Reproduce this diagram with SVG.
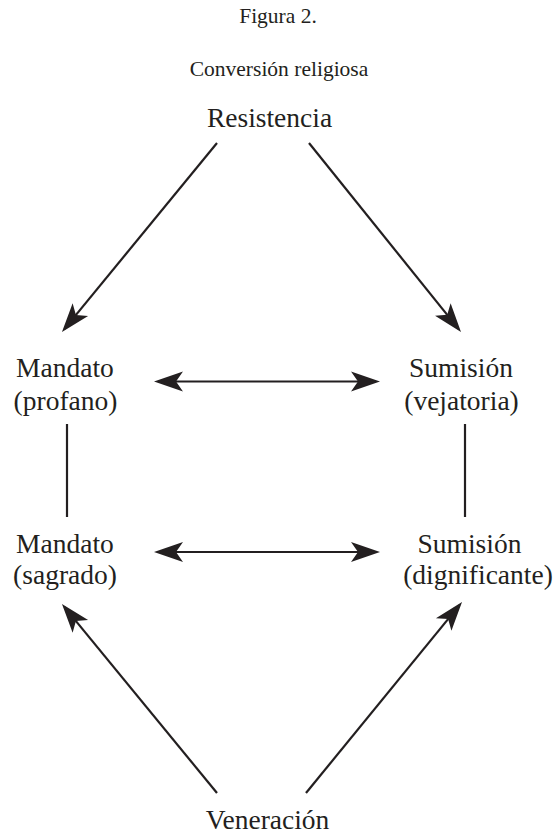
<svg xmlns="http://www.w3.org/2000/svg" width="555" height="835" viewBox="0 0 555 835">
<style>
text{font-family:"Liberation Serif","Times New Roman",serif;fill:#231f20;text-anchor:middle}
.t{font-size:21.5px}
.n{font-size:27.5px}
.c line{stroke:#231f20;stroke-width:2.2;fill:none}
</style>
<defs>
<marker id="ah" viewBox="-28 -11 34 22" refX="0" refY="0" markerWidth="34" markerHeight="22" markerUnits="userSpaceOnUse" orient="auto-start-reverse">
<path d="M4,0 L-25,-10 L-18,0 L-25,10 Z" fill="#231f20"/>
</marker>
</defs>
<rect width="555" height="835" fill="#ffffff"/>
<text class="t" x="278" y="23">Figura 2.</text>
<text class="t" x="279" y="76">Conversión religiosa</text>
<g id="resistencia"><text class="n" x="269.5" y="127">Resistencia</text></g>
<g id="mandato-profano"><text class="n" x="65" y="377">Mandato</text><text class="n" x="65.5" y="410">(profano)</text></g>
<g id="sumision-vejatoria"><text class="n" x="461" y="377">Sumisión</text><text class="n" x="461.5" y="410">(vejatoria)</text></g>
<g id="mandato-sagrado"><text class="n" x="65" y="553">Mandato</text><text class="n" x="65" y="584">(sagrado)</text></g>
<g id="sumision-dignificante"><text class="n" x="469.5" y="553">Sumisión</text><text class="n" x="478" y="584">(dignificante)</text></g>
<g id="veneracion"><text class="n" x="267.5" y="829">Veneración</text></g>
<g class="c" id="connectors">
<line x1="217" y1="143" x2="64.5" y2="328.9" marker-end="url(#ah)"/>
<line x1="309" y1="143" x2="458.5" y2="328.9" marker-end="url(#ah)"/>
<line x1="158" y1="381.5" x2="376" y2="381.5" marker-start="url(#ah)" marker-end="url(#ah)"/>
<line x1="67" y1="424" x2="67" y2="517"/>
<line x1="465" y1="424" x2="465" y2="517"/>
<line x1="158" y1="552" x2="376" y2="552" marker-start="url(#ah)" marker-end="url(#ah)"/>
<line x1="217" y1="793" x2="64.5" y2="607.1" marker-end="url(#ah)"/>
<line x1="306" y1="793" x2="459.5" y2="605.1" marker-end="url(#ah)"/>
</g>
</svg>
